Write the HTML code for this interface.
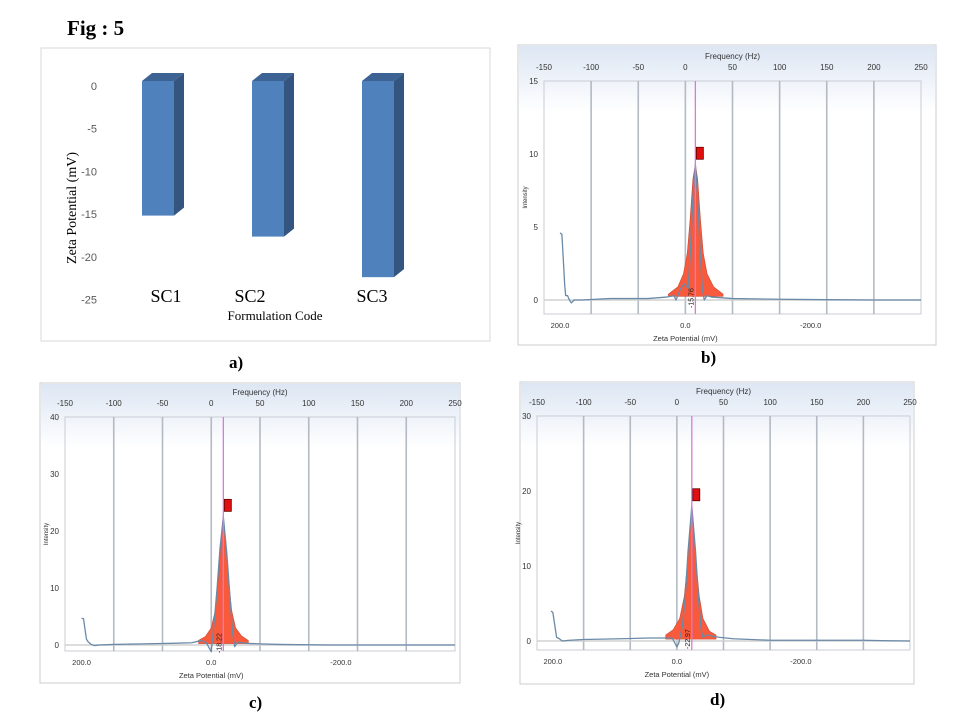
<!DOCTYPE html>
<html><head><meta charset="utf-8"><style>
body{margin:0;background:#fff;width:960px;height:720px;overflow:hidden;font-family:"Liberation Sans",sans-serif}
svg{position:absolute;left:0;top:0}
</style></head><body>
<svg id="root" width="960" height="720">
<defs><linearGradient id="hdr" x1="0" y1="0" x2="0" y2="1"><stop offset="0" stop-color="#dde6f3"/><stop offset="1" stop-color="#ffffff"/></linearGradient></defs>
<text x="67" y="35" font-family="Liberation Serif,serif" font-weight="bold" font-size="21">Fig : 5</text>
<g id="pa"></g>
<g id="pb"></g>
<g id="pc"></g>
<g id="pd"></g>
<text x="229" y="368" font-family="Liberation Serif,serif" font-weight="bold" font-size="17">a)</text>
<text x="701" y="363" font-family="Liberation Serif,serif" font-weight="bold" font-size="17">b)</text>
<text x="249" y="708" font-family="Liberation Serif,serif" font-weight="bold" font-size="17">c)</text>
<text x="710" y="705" font-family="Liberation Serif,serif" font-weight="bold" font-size="17">d)</text>
</svg>
<script>
const NS="http://www.w3.org/2000/svg";
// Panel a data
const barCats=["SC1","SC2","SC3"];
const barVals=[-15.76,-18.22,-22.97];
const barTicks=[0,-5,-10,-15,-20,-25];
// Panel b data
const bCurveF=[-133,-131,-128,-127,-125,-123,-121,-118,-110,-80,-40,-20,-12,-10,-5,-1,3,5,8,10.6,13,16,18,20,23,28,50,100,150,200,250];
const bCurveI=[4.6,4.5,1.0,0.3,0.3,0.0,-0.2,0.0,0.0,0.1,0.1,0.2,0.3,0.0,0.8,1.1,0.8,3,7,9.3,7,3,0.8,0.0,0.3,0.2,0.1,0.05,0.02,0,0];
const bFillF=[-18,-8,-2,2,5,8,10.6,13,16,19,23,30,40];
const bFillI=[0.4,0.9,1.8,3.2,5.5,8.3,9.3,8.3,5.5,3.2,1.8,0.9,0.4];
const bYTicks=[0,5,10,15];
// Panel c data
const cCurveF=[-133,-131,-128,-126,-123,-120,-115,-100,-70,-40,-20,-10,-5,0,3,6,9,12.4,16,19,22,24,27,35,50,70,120,250];
const cCurveI=[4.7,4.6,1.0,0.5,0.1,-0.1,0,0.1,0.2,0.3,0.4,0.8,0.4,-1.2,4,10,17,22.5,16,9,2,-0.3,0.5,0.3,0.2,0.1,0,0];
const cFillF=[-13,-6,0,4,7,10,12.4,15,18,21,25,31,38];
const cFillI=[0.8,1.5,3,6,11,18,22.5,18,11,6,3,1.6,0.8];
const cYTicks=[0,10,20,30,40];
// Panel d data
const dCurveF=[-135,-133,-129,-126,-123,-115,-100,-60,-30,-5,0,2,6,9,12,16,20,23,26,28,32,45,60,100,200,220,250];
const dCurveI=[4,3.8,0.5,0.3,0,0.1,0.2,0.3,0.4,0.4,-0.8,-0.3,2,6,12,18,12,6,1.5,0.5,0.8,0.5,0.3,0.1,0.1,0.05,0];
const dFillF=[-12,-4,3,8,11,14,16,18,21,24,28,35,42];
const dFillI=[0.8,1.5,3,6,10,15,18,15,10,6,3,1.3,0.8];
const dYTicks=[0,10,20,30];
const freqTicks=[-150,-100,-50,0,50,100,150,200,250];
const zetaLabels=["200.0","0.0","-200.0"];
const zetaFreqs=[-133,0,133];

function el(p,tag,at,txt){const e=document.createElementNS(NS,tag);for(const k in at)e.setAttribute(k,at[k]);if(txt!==undefined)e.textContent=txt;p.appendChild(e);return e;}

// ---- Panel a
(function(){
 const g=document.getElementById('pa');
 const fr=el(g,'rect',{x:41,y:48,width:449,height:293,fill:'#fff',stroke:'#d9d9d9','stroke-width':1});
 
 const y=v=>81-v*(42.7/5);
 barTicks.forEach(t=>{const e=el(g,'text',{x:97,y:y(t)+9,'text-anchor':'end','font-size':11,fill:'#595959'},String(t));
  });
 const xs=[158,268,378];
 barCats.forEach((c,i)=>{
  const x0=xs[i]-16,w=32,dx=10,dy=8,y0=y(0),y1=y(barVals[i]);
  const sd=el(g,'polygon',{points:`${x0+w},${y0} ${x0+w+dx},${y0-dy} ${x0+w+dx},${y1-dy} ${x0+w},${y1}`,fill:'#335580'});
  
  const tp=el(g,'polygon',{points:`${x0},${y0} ${x0+dx},${y0-dy} ${x0+w+dx},${y0-dy} ${x0+w},${y0}`,fill:'#3d6394'});
  
  const fb=el(g,'rect',{x:x0,y:y0,width:w,height:y1-y0,fill:'#4f81bd'});
  
 });
 const lx=[166,250,372];
 barCats.forEach((c,i)=>{const e=el(g,'text',{x:lx[i],y:302,'text-anchor':'middle','font-family':'Liberation Serif,serif','font-size':18},c);
  });
 const xt=el(g,'text',{x:275,y:320,'text-anchor':'middle','font-family':'Liberation Serif,serif','font-size':13},'Formulation  Code');
 
 const yt=el(g,'text',{x:0,y:0,'text-anchor':'middle','font-family':'Liberation Serif,serif','font-size':14,transform:'translate(76,208) rotate(-90)'},'Zeta Potential (mV)');
 
})();

// ---- Zeta panels
function zpanel(id,P,curveF,curveI,fillF,fillI,yTicks,ymax,peakF,peakI,peakLabel){
 const g=document.getElementById(id);
 const fx=f=>P.L+(f+150)/400*(P.R-P.L);
 const fy=v=>P.y0-v/ymax*(P.y0-P.yt);
 const fr=el(g,'rect',{x:P.fx,y:P.fy,width:P.fw,height:P.fh,fill:'#fff',stroke:'#c8ccd2','stroke-width':1});
 
 const hd=el(g,'rect',{x:P.fx+1,y:P.fy+1,width:P.fw-2,height:P.yt-P.fy+30,fill:'url(#hdr)'});
 
 const pb=el(g,'rect',{x:P.L,y:P.yt,width:P.R-P.L,height:P.bot-P.yt,fill:'none',stroke:'#c8cdd5','stroke-width':1});
 
 const ft=el(g,'text',{x:(P.L+P.R)/2,y:P.yt-22,'text-anchor':'middle','font-size':8,fill:'#333'},'Frequency (Hz)');
 
 freqTicks.forEach(f=>{
  const t=el(g,'text',{x:fx(f),y:P.yt-11,'text-anchor':'middle','font-size':8,fill:'#333'},String(f));
  
  if(f>-150&&f<250){const l=el(g,'line',{x1:fx(f),x2:fx(f),y1:P.yt,y2:P.bot,stroke:'#b3bac4','stroke-width':1.6});
   }
 });
 const zl=el(g,'line',{x1:P.L,x2:P.R,y1:fy(0),y2:fy(0),stroke:'#d0d0d0','stroke-width':1.5});
 
 yTicks.forEach(v=>{const t=el(g,'text',{x:P.L-6,y:fy(v)+3,'text-anchor':'end','font-size':8,fill:'#333'},String(v));
  });
 const it=el(g,'text',{x:0,y:0,'text-anchor':'middle','font-size':6,fill:'#333',transform:`translate(${P.L-17},${(P.yt+P.bot)/2}) rotate(-90)`},'Intensity');
 
 zetaLabels.forEach((z,i)=>{const t=el(g,'text',{x:fx(zetaFreqs[i]),y:P.bot+14,'text-anchor':'middle','font-size':7.5,fill:'#333'},z);
  });
 const zt=el(g,'text',{x:(fx(-133)+fx(133))/2,y:P.bot+27,'text-anchor':'middle','font-size':7.5,fill:'#333'},'Zeta Potential (mV)');
 
 let d='M'+fx(fillF[0])+','+fy(0.25);
 fillF.forEach((f,i)=>{d+=' L'+fx(f)+','+fy(fillI[i]);});
 d+=' L'+fx(fillF[fillF.length-1])+','+fy(0.25)+'Z';
 const fp=el(g,'path',{d:d,fill:'#fa5a3c',stroke:'#c84a32','stroke-width':0.6,'stroke-linejoin':'round'});
 
 const pts=curveF.map((f,i)=>fx(f)+','+fy(curveI[i])).join(' ');
 const cl=el(g,'polyline',{points:pts,fill:'none',stroke:'#6a8aa8','stroke-width':1.3,'stroke-linejoin':'round'});
 
 const pl=el(g,'line',{x1:fx(peakF),x2:fx(peakF),y1:P.yt,y2:P.bot,stroke:'#d97ad9','stroke-width':1.3});
 
 const pt=el(g,'text',{x:0,y:0,'font-size':7,fill:'#222',transform:`translate(${fx(peakF)-2},${fy(0)+8}) rotate(-90)`},peakLabel);
 
 const mk=el(g,'rect',{x:fx(peakF)+1,y:fy(peakI+0.05*ymax)-6,width:7,height:12,fill:'#e01010',stroke:'#600','stroke-width':0.8});
 
}
zpanel('pb',{fx:518,fy:45,fw:418,fh:300,L:544,R:921,yt:81,y0:300,bot:314},bCurveF,bCurveI,bFillF,bFillI,bYTicks,15,10.6,9.3,'-15.76');
zpanel('pc',{fx:40,fy:383,fw:420,fh:300,L:65,R:455,yt:417,y0:645,bot:651},cCurveF,cCurveI,cFillF,cFillI,cYTicks,40,12.4,22.5,'-18.22');
zpanel('pd',{fx:520,fy:382,fw:394,fh:302,L:537,R:910,yt:416,y0:641,bot:650},dCurveF,dCurveI,dFillF,dFillI,dYTicks,30,16,18,'-22.97');
</script>
</body></html>
